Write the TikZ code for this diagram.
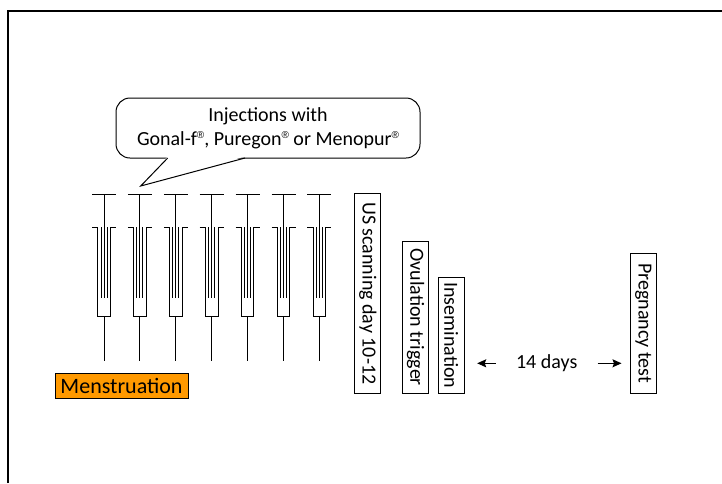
\documentclass[tikz,border=0pt]{standalone}
\usepackage{fontspec}
\setmainfont{Carlito}
\newfontfamily\regfont{Liberation Sans}
\newcommand{\reg}{\raisebox{6.5pt}{\regfont\fontsize{10}{10}\selectfont ®}}
\usetikzlibrary{arrows.meta,positioning}
\definecolor{menses}{RGB}{255,153,0}
\tikzstyle{event}=[rectangle,draw=black,line width=1pt,inner sep=0pt,rotate=-90,
minimum height=26pt,font=\fontsize{20}{24}\selectfont]
\tikzstyle{period}=[rectangle,draw=black,line width=1pt,fill=menses,inner sep=0pt,
minimum width=133pt,minimum height=25pt,font=\fontsize{22}{24}\selectfont]
\tikzstyle{balloon}=[rectangle,rounded corners=14pt,draw=black,line width=1pt,
minimum width=304pt,minimum height=60pt,align=center,font=\fontsize{20}{24}\selectfont]
\tikzstyle{syringe}=[line width=1pt]

\begin{document}
\begin{tikzpicture}[>={Stealth[length=9pt,width=8pt,inset=1.5pt]},x=1pt,y=1pt]
    \useasboundingbox (0,0) rectangle (722,-483);
    \draw[line width=2pt] (7.5,-483) -- (7.5,-11) -- (722,-11);

    % syringes
    \foreach \i in {0,...,6}{
      \pgfmathsetmacro\c{104+35.9*\i}
      \draw[syringe] (\c-12,-194) -- (\c+12,-194);
      \draw[syringe] (\c,-194) -- (\c,-298);
      \draw[syringe] (\c-3,-227) -- (\c-3,-298);
      \draw[syringe] (\c+3,-227) -- (\c+3,-298);
      \draw[syringe] (\c-12,-227) -- (\c-6.3,-227) -- (\c-6.3,-316)
        -- (\c+6.3,-316) -- (\c+6.3,-227) -- (\c+12,-227);
      \draw[syringe] (\c,-316) -- (\c,-361);
    }

    \node[balloon] (inj) at (268,-128)
      {Injections with\\Gonal-f\reg, Puregon\reg\ or Menopur\reg};
    \coordinate (tail_a) at (167.7,-158);
    \coordinate (tail_b) at (245,-158);
    \coordinate (tip) at (140.7,-186);
    \fill[white] ([yshift=1.5pt]tail_a) -- (tip) -- ([yshift=1.5pt]tail_b) -- cycle;
    \draw[syringe] (tail_a) -- (tip) -- (tail_b);

    \node[period] (mens) at (121.5,-385.5) {Menstruation};

    \node[event,minimum width=200pt] (scan) at (367.8,-293.3) {US scanning day 10-12};
    \node[event,minimum width=152.3pt] (ovul) at (415.5,-317.2) {Ovulation trigger};
    \node[event,minimum width=116pt] (insem) at (451.3,-335.3) {Insemination};
    \node[event,minimum width=140pt] (preg) at (643.3,-323.3) {Pregnancy test};

    \node[inner sep=0pt,font=\fontsize{20}{24}\selectfont] (days) at (546.7,-363.3) {14 days};

    \draw[->,line width=1pt,shorten <=20pt,shorten >=12.4pt] (days.west) -- (days.west -| insem.north);
    \draw[->,line width=1pt,shorten <=20pt,shorten >=8.3pt] (days.east) -- (days.east -| preg.south);
  \end{tikzpicture}
\end{document}
